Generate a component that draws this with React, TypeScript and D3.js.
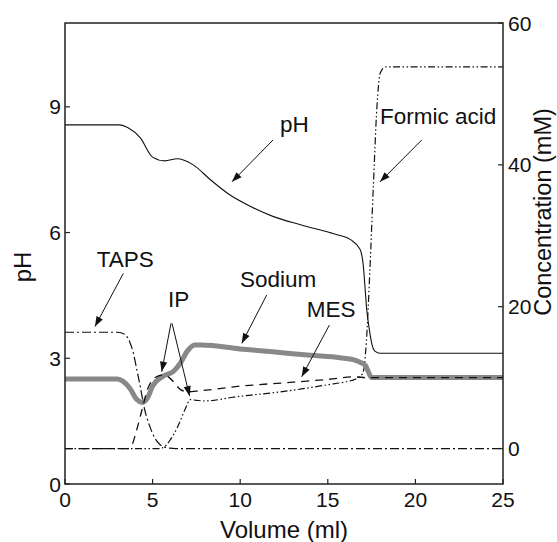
import React from "react";
import * as d3 from "d3";

// ---------- data ----------
const phVol = [0, 3.1, 3.6, 4.3, 5.0, 5.7, 6.4, 7.3, 8.3, 9.4, 10.6, 11.9, 13.4, 15.1, 15.7, 16.3, 16.84, 17.03, 17.12, 17.22, 17.37, 17.5, 17.69, 17.98, 25];
const phVal = [8.57, 8.57, 8.5, 8.26, 7.8, 7.71, 7.76, 7.62, 7.26, 6.9, 6.62, 6.38, 6.19, 6.0, 5.93, 5.83, 5.6, 5.2, 4.72, 4.17, 3.69, 3.37, 3.17, 3.12, 3.12];

const sodiumVol = [0, 3.0, 3.3, 3.7, 4.1, 4.4, 4.7, 5.0, 5.6, 6.2, 6.6, 7.0, 7.4, 7.8, 10, 12, 14, 15.7, 16.5, 16.9, 17.15, 17.3, 17.5, 25];
const sodiumVal = [9.8, 9.8, 9.5, 8.5, 6.9, 6.5, 7.1, 8.8, 10.2, 10.9, 12.1, 13.8, 14.6, 14.6, 14.05, 13.6, 13.15, 12.8, 12.5, 12.1, 11.7, 10.9, 10.0, 10.0];

const tapsVol = [0, 3.0, 3.4, 3.7, 3.9, 4.1, 4.3, 4.5, 4.8, 5.1, 5.4, 5.7, 6.0, 6.3, 25];
const tapsVal = [16.4, 16.4, 16.1, 15.0, 13.5, 11.1, 8.7, 6.0, 3.4, 1.6, 0.6, 0.2, 0.05, 0, 0];

const mesVol = [0, 3.6, 3.8, 4.1, 4.4, 4.7, 5.0, 5.3, 5.6, 5.9, 6.2, 6.6, 7.0, 7.5, 8.5, 10, 11, 13, 15, 16.5, 17.3, 25];
const mesVal = [0, 0, 0.4, 2.7, 5.5, 8.3, 9.7, 10.2, 10.4, 10.1, 9.4, 8.3, 8.0, 8.1, 8.35, 8.8, 9.0, 9.35, 9.75, 10.1, 10.0, 10.0];

const formicVol = [0, 5.4, 5.7, 6.0, 6.4, 6.85, 7.15, 7.5, 8.0, 8.5, 9.5, 10.5, 12, 13.5, 15, 16, 16.6, 17.0, 17.2, 17.4, 17.6, 17.8, 18.0, 18.3, 25];
const formicVal = [0, 0, 0.3, 1.2, 2.9, 5.5, 6.9, 6.8, 6.7, 6.8, 7.2, 7.5, 7.9, 8.4, 9.0, 9.4, 9.8, 10.6, 15, 25, 37, 48, 53, 53.8, 53.8];

const xTicks = [0, 5, 10, 15, 20, 25];
const pHTicks = [0, 3, 6, 9];
const concTicks = [0, 20, 40, 60];

// annotations in data units (volume, concentration)
const labels = [
  { text: "pH", x: 12.27, y: 44.7, arrows: [[11.87, 43.5, 9.53, 37.6]] },
  { text: "Formic acid", x: 17.98, y: 45.75, arrows: [[20.36, 43.5, 17.98, 37.6]] },
  { text: "TAPS", x: 1.81, y: 25.6, arrows: [[3.33, 24.7, 1.71, 17.2]] },
  { text: "IP", x: 5.88, y: 20.0, arrows: [[6.05, 17.65, 5.52, 10.83], [6.11, 17.65, 7.11, 7.4]] },
  { text: "Sodium", x: 9.99, y: 22.8, arrows: [[11.51, 21.64, 10.09, 14.83]] },
  { text: "MES", x: 13.8, y: 18.58, arrows: [[15.09, 17.41, 13.51, 10.12]] },
];

const W = 557, H = 542;
const L = 65, R = 503, T = 23, B = 484;
const FONT = "'Liberation Sans', Arial, Helvetica, sans-serif";

export default function App() {
  const x = d3.scaleLinear().domain([0, 25]).range([L, R]);
  const yL = d3.scaleLinear().domain([0, 11]).range([B, T]);
  const yR = d3.scaleLinear().domain([-5, 60]).range([B, T]);

  const mk = (vs: number[], ys: number[], sc: d3.ScaleLinear<number, number>) =>
    d3.line<number>().x((_, i) => x(vs[i])).y((d) => sc(d)).curve(d3.curveMonotoneX)(ys) || "";

  const arrowHead = (x1: number, y1: number, x2: number, y2: number) => {
    const ang = Math.atan2(y2 - y1, x2 - x1);
    const len = 10, hw = 3.6;
    const bx = x2 - len * Math.cos(ang), by = y2 - len * Math.sin(ang);
    const px = -Math.sin(ang) * hw, py = Math.cos(ang) * hw;
    return `M${x2},${y2}L${bx + px},${by + py}L${bx - px},${by - py}Z`;
  };

  return (
    <div style={{ position: "absolute", left: 0, top: 0 }}>
      <svg width={W} height={H} style={{ display: "block", background: "#fff" }} fontFamily={FONT}>
        {/* series */}
        <path d={mk(formicVol, formicVal, yR)} fill="none" stroke="#111" strokeWidth={1.2} strokeDasharray="7,2.5,1.5,2.5,1.5,2.5" />
        <path d={mk(tapsVol, tapsVal, yR)} fill="none" stroke="#111" strokeWidth={1.2} strokeDasharray="9,3,2,3" />
        <path d={mk(sodiumVol, sodiumVal, yR)} fill="none" stroke="#888" strokeWidth={5} strokeLinejoin="round" />
        <path d={mk(mesVol, mesVal, yR)} fill="none" stroke="#111" strokeWidth={1.3} strokeDasharray="8,6" />
        <path d={mk(phVol, phVal, yL)} fill="none" stroke="#111" strokeWidth={1.1} />

        {/* frame */}
        <rect x={L} y={T} width={R - L} height={B - T} fill="none" stroke="#222" strokeWidth={1.5} />

        {/* bottom ticks */}
        {xTicks.map((t) => (
          <g key={"x" + t}>
            <line x1={x(t)} x2={x(t)} y1={B} y2={B - 5} stroke="#222" strokeWidth={1.2} />
            <text x={x(t)} y={507} textAnchor="middle" fontSize={21} fill="#111">{t}</text>
          </g>
        ))}
        {/* left ticks */}
        {pHTicks.map((t) => (
          <g key={"l" + t}>
            <line x1={L} x2={L + 5} y1={yL(t)} y2={yL(t)} stroke="#222" strokeWidth={1.2} />
            <text x={61} y={yL(t) + 7.5} textAnchor="end" fontSize={21} fill="#111">{t}</text>
          </g>
        ))}
        {/* right ticks */}
        {concTicks.map((t) => (
          <g key={"r" + t}>
            <line x1={R - 5} x2={R} y1={yR(t)} y2={yR(t)} stroke="#222" strokeWidth={1.2} />
            <text x={508} y={yR(t) + 7.5} textAnchor="start" fontSize={21} fill="#111">{t}</text>
          </g>
        ))}

        {/* axis titles */}
        <text x={(L + R) / 2} y={538} textAnchor="middle" fontSize={24} fill="#111">Volume (ml)</text>
        <text transform="translate(31,267) rotate(-90)" textAnchor="middle" fontSize={24} fill="#111">pH</text>
        <text transform="translate(551,212) rotate(-90)" textAnchor="middle" fontSize={23.5} fill="#111">Concentration (mM)</text>

        {/* annotations */}
        {labels.map((a) => (
          <g key={a.text}>
            <text x={x(a.x)} y={yR(a.y)} fontSize={22.5} fill="#111">{a.text}</text>
            {a.arrows.map((ar, i) => {
              const x1 = x(ar[0]), y1 = yR(ar[1]), x2 = x(ar[2]), y2 = yR(ar[3]);
              return (
                <g key={i}>
                  <line x1={x1} y1={y1} x2={x2} y2={y2} stroke="#111" strokeWidth={1} />
                  <path d={arrowHead(x1, y1, x2, y2)} fill="#111" />
                </g>
              );
            })}
          </g>
        ))}
      </svg>
    </div>
  );
}
